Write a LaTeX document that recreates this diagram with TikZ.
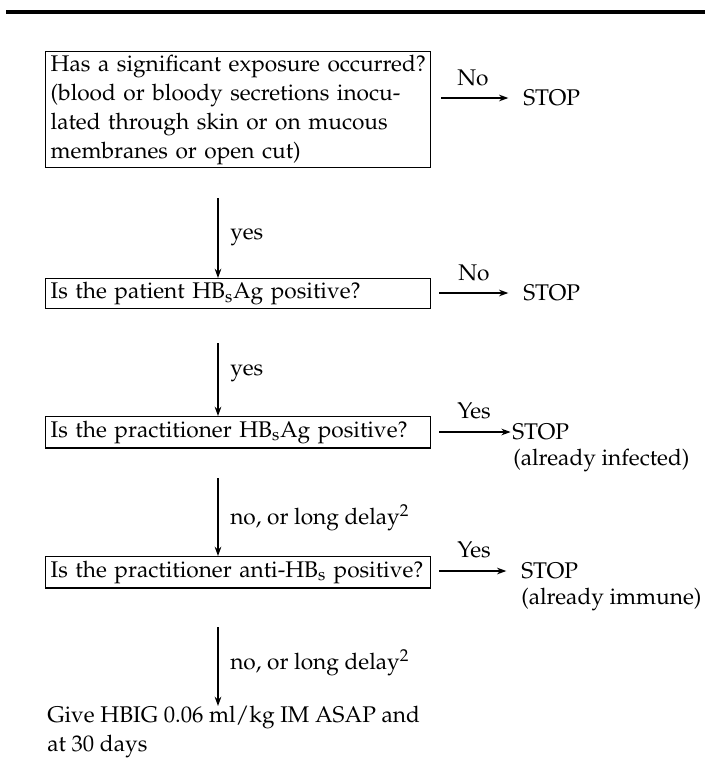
\documentclass[tikz,border=0pt]{standalone}
\usepackage[T1]{fontenc}
\usepackage{mathpazo}
\usetikzlibrary{arrows.meta}
\begin{document}
\begin{tikzpicture}[x=0.75pt,y=-0.75pt,
  txt/.style={font=\fontsize{17}{21.75}\selectfont, inner sep=0pt},
  qbox/.style={txt, draw, line width=1pt, anchor=north west, minimum width=288.75pt,
     text width=281.25pt, inner xsep=3.75pt, align=left},
  arr/.style={line width=0.9pt, -{Stealth[length=7pt,width=5pt]}},
  lbl/.style={txt, anchor=west},
  clbl/.style={txt, anchor=center}]
\useasboundingbox (0,0) rectangle (705,769);
\draw[line width=2.4pt] (6,12) -- (705,12);

% question boxes
\node[qbox, minimum height=87pt] (b1) at (45,51)
  {\makebox[281.25pt][s]{Has a significant exposure occurred?}\\
   \makebox[281.25pt][s]{(blood or bloody secretions inocu-}\\
   \makebox[281.25pt][s]{lated through skin or on mucous}\\
   membranes or open cut)};
\node[qbox, minimum height=22.5pt] (b2) at (45,278) {Is the patient HB\textsubscript{s}Ag positive?};
\node[qbox, minimum height=23.5pt] (b3) at (45,416) {Is the practitioner HB\textsubscript{s}Ag positive?};
\node[qbox, minimum height=23.5pt] (b4) at (45,556) {Is the practitioner anti-HB\textsubscript{s} positive?};
\node[txt, anchor=north west, align=left] (give) at (47,706)
  {Give HBIG 0.06 ml/kg IM ASAP and\\at 30 days};

% vertical arrows
\coordinate (s1) at (218,198);
\coordinate (s2) at (218,343);
\coordinate (s3) at (218,478);
\coordinate (s4) at (218,627);
\draw[arr] (s1) -- (s1 |- b2.north);
\draw[arr] (s2) -- (s2 |- b3.north);
\draw[arr] (s3) -- (s3 |- b4.north);
\draw[arr] (s4) -- (s4 |- give.north);
\node[lbl] (y1) at (230,237) {yes};
\node[lbl] (y2) at (230,373) {yes};
\node[lbl] (y3) at (230,518) {no, or long delay\textsuperscript{2}};
\node[lbl] (y4) at (230,663) {no, or long delay\textsuperscript{2}};

% right branches
\node[lbl] (stop1) at (523,98) {STOP};
\node[lbl] (stop2) at (523,293) {STOP};
\node[lbl] (stop3) at (512,432) {STOP};
\node[lbl] (stop4) at (521,571) {STOP};
\node[lbl] (inf) at (513,460) {(already infected)};
\node[lbl] (imm) at (521,599) {(already immune)};
\coordinate (h1) at (441,98);
\coordinate (h2) at (439,293);
\coordinate (h3) at (439,432);
\coordinate (h4) at (439,571);
\draw[arr, shorten >=11pt] (h1) -- (stop1.west);
\draw[arr, shorten >=11pt] (h2) -- (stop2.west);
\draw[arr, shorten >=1pt] (h3) -- (stop3.west);
\draw[arr, shorten >=11pt] (h4) -- (stop4.west);
\node[clbl] (n1) at (473,78) {No};
\node[clbl] (n2) at (474,273) {No};
\node[clbl] (n3) at (474,411) {Yes};
\node[clbl] (n4) at (474,550) {Yes};
\end{tikzpicture}
\end{document}
